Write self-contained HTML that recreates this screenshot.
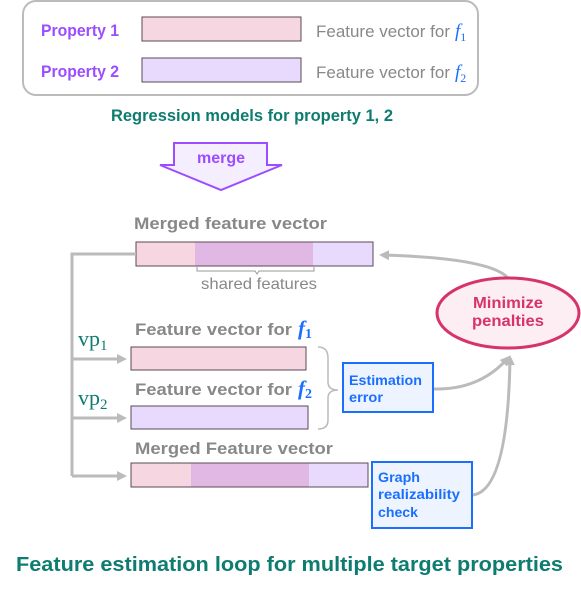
<!DOCTYPE html>
<html><head><meta charset="utf-8"><style>
html,body{margin:0;padding:0;background:#fff}
svg{display:block}
text{font-family:"Liberation Sans",sans-serif}
.s{font-family:"Liberation Serif",serif}
</style></head><body>
<svg width="581" height="591" viewBox="0 0 581 591" xmlns="http://www.w3.org/2000/svg">
<defs>
<marker id="ah" markerWidth="12" markerHeight="12" refX="7" refY="5" orient="auto" markerUnits="userSpaceOnUse">
<path d="M0,0 L10,5 L0,10 Z" fill="#bbb"/>
</marker>
</defs>
<rect x="23" y="1" width="455" height="94" rx="13" fill="#fff" stroke="#bbb" stroke-width="2"/>
<text x="41" y="36" font-size="17" font-weight="bold" fill="#9b4dff" textLength="78" lengthAdjust="spacingAndGlyphs">Property 1</text>
<text x="41" y="77" font-size="17" font-weight="bold" fill="#9b4dff" textLength="78" lengthAdjust="spacingAndGlyphs">Property 2</text>
<rect x="142" y="17" width="159" height="24" fill="#f6d6e0" stroke="#5a4a55" stroke-width="1"/>
<rect x="142" y="58" width="159" height="24" fill="#e8dafc" stroke="#5a4a55" stroke-width="1"/>
<text x="316" y="37" font-size="17" fill="#888" textLength="134" lengthAdjust="spacingAndGlyphs">Feature vector for</text>
<text x="455" y="37" font-size="19" class="s" font-style="italic" fill="#1a6fff">f<tspan font-size="12" font-style="normal" dy="4">1</tspan></text>
<text x="316" y="78" font-size="17" fill="#888" textLength="134" lengthAdjust="spacingAndGlyphs">Feature vector for</text>
<text x="455" y="78" font-size="19" class="s" font-style="italic" fill="#1a6fff">f<tspan font-size="12" font-style="normal" dy="4">2</tspan></text>
<text x="111" y="121" font-size="17" font-weight="bold" fill="#0e7c70" textLength="282" lengthAdjust="spacingAndGlyphs">Regression models for property 1, 2</text>
<path d="M174,143 L267,143 L267,165 L282,165 L221,190 L160,165 L174,165 Z" fill="#f5eefe" stroke="#9b4dff" stroke-width="2"/>
<text x="221" y="163" font-size="16" font-weight="bold" fill="#9b4dff" text-anchor="middle">merge</text>

<text x="134" y="229" font-size="17" font-weight="bold" fill="#888" textLength="193" lengthAdjust="spacingAndGlyphs">Merged feature vector</text>
<rect x="136" y="242" width="59" height="24" fill="#f6d6e0"/>
<rect x="195" y="242" width="118" height="24" fill="#e1b8e4"/>
<rect x="313" y="242" width="60" height="24" fill="#e8dafc"/>
<rect x="136" y="242" width="237" height="24" fill="none" stroke="#5a4a55" stroke-width="1"/>
<path d="M197,267 v4 h58 l2,3 l2,-3 h55 v-4" fill="none" stroke="#999" stroke-width="1"/>
<text x="201" y="289" font-size="16" fill="#888" textLength="116" lengthAdjust="spacingAndGlyphs">shared features</text>

<path d="M136,254 H72 V476" fill="none" stroke="#bbb" stroke-width="3"/>
<line x1="72" y1="359" x2="124" y2="359" stroke="#bbb" stroke-width="3" marker-end="url(#ah)"/>
<line x1="72" y1="418" x2="124" y2="418" stroke="#bbb" stroke-width="3" marker-end="url(#ah)"/>
<line x1="72" y1="476" x2="124" y2="476" stroke="#bbb" stroke-width="3" marker-end="url(#ah)"/>
<text x="78" y="346" font-size="22" class="s" fill="#0e7c70">vp<tspan font-size="15" dy="4">1</tspan></text>
<text x="78" y="405" font-size="22" class="s" fill="#0e7c70">vp<tspan font-size="15" dy="4">2</tspan></text>

<text x="135" y="335" font-size="17" font-weight="bold" fill="#888" textLength="157" lengthAdjust="spacingAndGlyphs">Feature vector for</text>
<text x="298" y="335" font-size="21" class="s" font-weight="bold" font-style="italic" fill="#1a6fff">f<tspan font-size="14" font-style="normal" dy="3">1</tspan></text>
<rect x="131" y="347" width="175" height="23" fill="#f6d6e0" stroke="#5a4a55" stroke-width="1"/>
<text x="135" y="395" font-size="17" font-weight="bold" fill="#888" textLength="157" lengthAdjust="spacingAndGlyphs">Feature vector for</text>
<text x="298" y="395" font-size="21" class="s" font-weight="bold" font-style="italic" fill="#1a6fff">f<tspan font-size="14" font-style="normal" dy="3">2</tspan></text>
<rect x="131" y="406" width="177" height="23" fill="#e8dafc" stroke="#5a4a55" stroke-width="1"/>
<text x="135" y="454" font-size="17" font-weight="bold" fill="#888" textLength="198" lengthAdjust="spacingAndGlyphs">Merged Feature vector</text>
<rect x="131" y="463" width="60" height="24" fill="#f6d6e0"/>
<rect x="191" y="463" width="118" height="24" fill="#e1b8e4"/>
<rect x="309" y="463" width="59" height="24" fill="#e8dafc"/>
<rect x="131" y="463" width="237" height="24" fill="none" stroke="#5a4a55" stroke-width="1"/>

<path d="M318,347 Q328,347 328,358 V382 Q328,390 338,390 Q328,390 328,398 V420 Q328,429 318,429" fill="none" stroke="#bbb" stroke-width="1.5"/>
<rect x="343" y="363" width="90" height="49" fill="#eef4ff" stroke="#1a6fff" stroke-width="2"/>
<text x="349" y="385" font-size="14" font-weight="bold" fill="#1a6fff" textLength="73" lengthAdjust="spacingAndGlyphs">Estimation</text>
<text x="349" y="402" font-size="14" font-weight="bold" fill="#1a6fff" textLength="34" lengthAdjust="spacingAndGlyphs">error</text>
<rect x="372" y="462" width="100" height="66" fill="#eef4ff" stroke="#1a6fff" stroke-width="2"/>
<text x="378" y="482" font-size="14" font-weight="bold" fill="#1a6fff" textLength="42" lengthAdjust="spacingAndGlyphs">Graph</text>
<text x="378" y="499" font-size="14" font-weight="bold" fill="#1a6fff" textLength="82" lengthAdjust="spacingAndGlyphs">realizability</text>
<text x="378" y="517" font-size="14" font-weight="bold" fill="#1a6fff" textLength="40" lengthAdjust="spacingAndGlyphs">check</text>

<path d="M508,278 Q490,258 382,255" fill="none" stroke="#bbb" stroke-width="3" marker-end="url(#ah)"/>
<path d="M434,389 Q480,390 508,358" fill="none" stroke="#bbb" stroke-width="3" marker-end="url(#ah)"/>
<path d="M473,495 Q508,490 510,358" fill="none" stroke="#bbb" stroke-width="3" marker-end="url(#ah)"/>
<ellipse cx="508" cy="313" rx="71" ry="35" fill="#fdeef3" stroke="#d6336c" stroke-width="3"/>
<text x="473" y="308" font-size="16" font-weight="bold" fill="#d6336c" textLength="70" lengthAdjust="spacingAndGlyphs">Minimize</text>
<text x="472" y="326" font-size="16" font-weight="bold" fill="#d6336c" textLength="72" lengthAdjust="spacingAndGlyphs">penalties</text>

<text x="16" y="571" font-size="20" font-weight="bold" fill="#0e7c70" textLength="547" lengthAdjust="spacingAndGlyphs">Feature estimation loop for multiple target properties</text>
</svg>
</body></html>
